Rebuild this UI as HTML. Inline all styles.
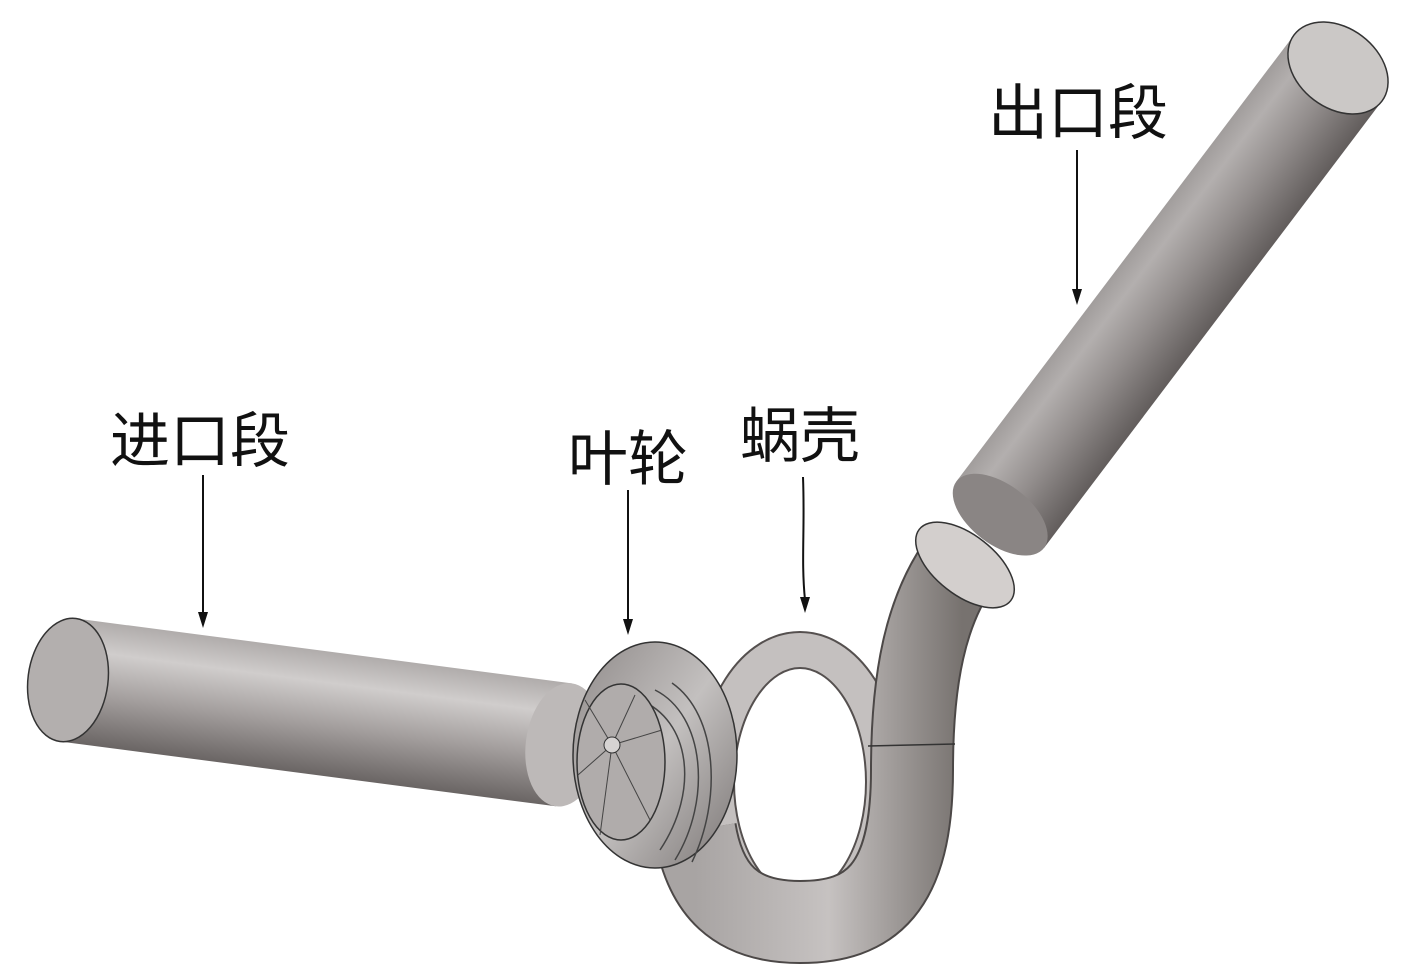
<!DOCTYPE html>
<html><head><meta charset="utf-8"><style>
html,body{margin:0;padding:0;background:#fff;}
svg{display:block}
text{font-family:"Liberation Sans","Noto Sans CJK SC",sans-serif;fill:#111;}
</style></head><body>
<svg width="1417" height="977" viewBox="0 0 1417 977" xmlns="http://www.w3.org/2000/svg">
<defs>
<linearGradient id="gIn" x1="0" y1="0" x2="0" y2="1" gradientUnits="objectBoundingBox">
<stop offset="0" stop-color="#b0acab"/><stop offset="0.25" stop-color="#d0cdcc"/><stop offset="0.6" stop-color="#a39e9d"/><stop offset="1" stop-color="#6a6564"/></linearGradient>
<linearGradient id="gOut" x1="0" y1="0" x2="0" y2="1">
<stop offset="0" stop-color="#625d5c"/><stop offset="0.45" stop-color="#928d8c"/><stop offset="0.8" stop-color="#b3afae"/><stop offset="1" stop-color="#a19d9c"/></linearGradient>
<linearGradient id="gJ" x1="0" y1="0" x2="1" y2="0">
<stop offset="0" stop-color="#a8a4a3"/><stop offset="0.5" stop-color="#c6c2c1"/><stop offset="1" stop-color="#77726f"/></linearGradient>
<linearGradient id="gImp" x1="0" y1="0" x2="1" y2="1">
<stop offset="0" stop-color="#8f8a89"/><stop offset="0.5" stop-color="#c3c0bf"/><stop offset="1" stop-color="#7b7675"/></linearGradient>
</defs>

<!-- Outlet pipe -->
<g transform="translate(1338,68) rotate(127.1)">
<rect x="0" y="-55" width="560" height="110" fill="url(#gOut)"/>
<ellipse cx="560" cy="0" rx="30" ry="55" fill="#8a8584"/>
<ellipse cx="0" cy="0" rx="40" ry="55" fill="#cbc8c6" stroke="#333" stroke-width="1.5"/>
</g>

<!-- Volute ring -->
<ellipse cx="800" cy="782" rx="84" ry="132" fill="none" stroke="#55504f" stroke-width="38"/>
<ellipse cx="800" cy="782" rx="84" ry="132" fill="none" stroke="#c4c0bf" stroke-width="34"/>
<!-- J tube -->
<path d="M962,560 C925,610 912,680 912,770 C912,890 870,922 800,922 C735,922 705,890 695,830" fill="none" stroke="#4c4847" stroke-width="84"/>
<path d="M962,560 C925,610 912,680 912,770 C912,890 870,922 800,922 C735,922 705,890 695,830" fill="none" stroke="url(#gJ)" stroke-width="80"/>
<line x1="868" y1="746" x2="955" y2="744" stroke="#333" stroke-width="1.5"/>
<ellipse cx="965" cy="565" rx="58" ry="30" transform="rotate(38 965 565)" fill="#d3cfcd" stroke="#333" stroke-width="1.5"/>

<!-- Inlet pipe -->
<g transform="translate(68,680) rotate(7.45)">
<rect x="0" y="-62" width="500" height="124" fill="url(#gIn)"/>
<ellipse cx="500" cy="0" rx="38" ry="62" fill="#bdb9b8"/>
<ellipse cx="0" cy="0" rx="40" ry="62" fill="#b3afae" stroke="#333" stroke-width="1.5"/>
</g>

<!-- Impeller -->
<ellipse cx="655" cy="755" rx="82" ry="113" fill="url(#gImp)" stroke="#333" stroke-width="1.5"/>
<path d="M640,700 C690,720 700,790 660,850 M655,690 C705,715 712,800 675,860 M672,683 C718,715 722,800 692,862" fill="none" stroke="#444" stroke-width="1.5"/>
<ellipse cx="621" cy="762" rx="44" ry="78" fill="#b0acab" stroke="#333" stroke-width="1.5"/>
<g stroke="#444" stroke-width="1" fill="none">
<line x1="612" y1="745" x2="585" y2="700"/><line x1="612" y1="745" x2="635" y2="695"/>
<line x1="612" y1="745" x2="662" y2="730"/><line x1="612" y1="745" x2="650" y2="820"/>
<line x1="612" y1="745" x2="600" y2="835"/><line x1="612" y1="745" x2="578" y2="775"/>
</g>
<circle cx="612" cy="745" r="8" fill="#d6d3d2" stroke="#333" stroke-width="1"/>

<!-- Labels & arrows -->
<g stroke="#111" stroke-width="2" fill="none">
<line x1="203" y1="475" x2="203" y2="615"/>
<line x1="628" y1="490" x2="628" y2="622"/>
<path d="M803,477 C805,530 801,560 805,600"/>
<line x1="1077" y1="150" x2="1077" y2="292"/>
</g>
<g fill="#111">
<polygon points="198,612 208,612 203,628"/>
<polygon points="623,619 633,619 628,635"/>
<polygon points="800,597 810,597 805,613"/>
<polygon points="1072,289 1082,289 1077,305"/>
</g>
<text x="110" y="462" font-size="60">进口段</text>
<text x="568" y="480" font-size="60">叶轮</text>
<text x="740" y="457" font-size="60">蜗壳</text>
<text x="988" y="134" font-size="60">出口段</text>
</svg>
</body></html>
